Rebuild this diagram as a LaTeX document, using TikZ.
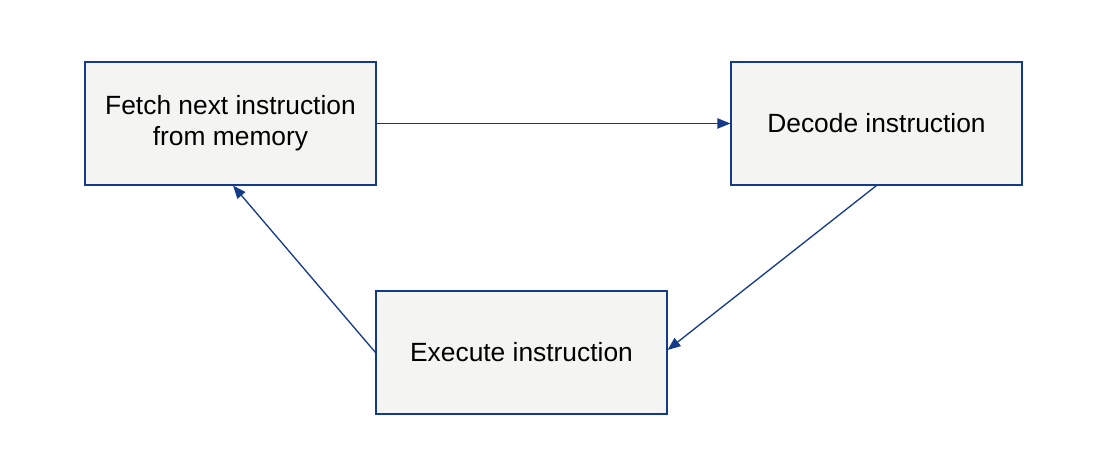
\documentclass[tikz,border=0pt]{standalone}
\usepackage{fontspec}
\setmainfont{Liberation Sans}
\usepackage{xcolor}
\usetikzlibrary{arrows.meta, positioning}
\definecolor{cycleblue}{RGB}{20,58,138}
\definecolor{cyclefill}{RGB}{244,244,242}
\tikzset{
    stagebox/.style={draw=cycleblue, fill=cyclefill, line width=0.6pt,
        minimum width=5.82cm, minimum height=2.46cm, align=center,
        font=\fontsize{15pt}{17.6pt}\selectfont},
    flow/.style={draw=cycleblue, line width=0.75pt,
        -{Triangle[length=7.4pt,width=5.8pt]}}
}

\begin{document}
\begin{tikzpicture}
                                \useasboundingbox (0, 0) rectangle (22.26, -9.42);
                                \node[stagebox] (fetch) at (4.61, -2.47) {Fetch next instruction\\from memory};
                                \node[stagebox] (decode) at (17.53, -2.47) {Decode instruction};
                                \node[stagebox] (execute) at (10.43, -7.05) {Execute instruction};
                                \draw[flow] (fetch) -- (decode);
                                \draw[flow] (decode.south) -- ([yshift=0.05cm]execute.east);
                                \draw[flow] (execute.west) -- ([xshift=0.05cm]fetch.south);
                            \end{tikzpicture}
\end{document}
